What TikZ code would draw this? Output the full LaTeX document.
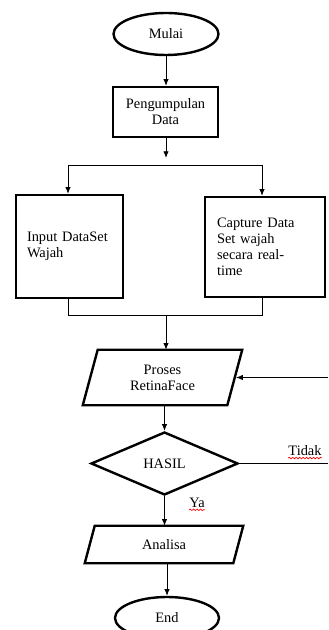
\documentclass[tikz,border=0pt]{standalone}
\usepackage{fontspec}
\setmainfont{Liberation Serif}
\usetikzlibrary{shapes.geometric,arrows.meta,decorations.pathmorphing}
\begin{document}
\begin{tikzpicture}[x=0.75pt,y=-0.75pt,
  every node/.style={font=\fontsize{10.8}{12}\selectfont},
  shp/.style={draw, line width=1.8pt, inner sep=0pt},
  term/.style={shp, ellipse, minimum width=78.75pt, minimum height=31.5pt},
  boxx/.style={shp, rectangle},
  paratext/.style={rectangle, inner sep=0pt, align=center},
  parabord/.style={line width=1.8pt, line join=miter},
  dec/.style={shp, diamond, minimum width=110.25pt, minimum height=47.25pt},
  conn/.style={line width=0.6pt},
  arr/.style={conn, -{Latex[length=5pt,width=4pt]}},
  lbl/.style={inner sep=0pt},
  wavy/.style={red, line width=0.5pt, decorate, decoration={snake, amplitude=0.6pt, segment length=2.6pt}}
]
\useasboundingbox (0,0) rectangle (328,630);

\node[term] (mulai) at (166,34) {Mulai};
\node[boxx, minimum width=78.75pt, minimum height=37.5pt, align=center] (peng) at (165.5,112) {Pengumpulan\\Data};
\node[boxx, minimum width=80.25pt, minimum height=77.25pt, text width=63.75pt, inner xsep=8.25pt, align=left] (inp) at (69.5,246.5) {Input DataSet\\Wajah};
\node[boxx, minimum width=90pt, minimum height=75pt, text width=72pt, inner xsep=9pt, align=left] (cap) at (265,247) {Capture Data\\Set wajah\\secara real-\\time};

\node[paratext, minimum width=108pt, minimum height=41.25pt] (proc) at (162.5,377.5) {Proses\\RetinaFace};
\draw[parabord] ([xshift=5.6pt]proc.north west) -- ([xshift=5.6pt]proc.north east)
  -- ([xshift=-5.6pt]proc.south east) -- ([xshift=-5.6pt]proc.south west) -- cycle;

\node[dec] (dia) at (164.5,463.5) {HASIL};

\node[paratext, minimum width=111pt, minimum height=27.75pt] (ana) at (164,544.5) {Analisa};
\draw[parabord] ([xshift=3.75pt]ana.north west) -- ([xshift=3.75pt]ana.north east)
  -- ([xshift=-3.75pt]ana.south east) -- ([xshift=-3.75pt]ana.south west) -- cycle;

\node[term, minimum width=78pt] (end) at (167,618) {End};

\node[lbl] (tidak) at (305,451) {Tidak};
\node[lbl] (ya) at (197,503) {Ya};
\draw[wavy] ([yshift=-1.6pt]tidak.base west) -- ([yshift=-1.6pt]tidak.base east);
\draw[wavy] ([yshift=-1.6pt]ya.base west) -- ([yshift=-1.6pt]ya.base east);

\coordinate (a1) at (166,158);
\coordinate (sl) at (68,165);
\coordinate (sr) at (262,165);
\coordinate (jl) at (68,315);
\coordinate (jr) at (262,315);
\coordinate (jm) at (166,315);
\coordinate (fb) at (328,377.5);
\coordinate (td) at (328,463.5);

\draw[arr] (mulai.south) -- (mulai.south |- peng.north);
\draw[arr] (a1 |- peng.south) -- (a1);
\draw[conn] (sl) -- (sr);
\draw[arr] (sl) -- (sl |- inp.north);
\draw[arr] (sr) -- (sr |- cap.north);
\draw[conn] (sl |- inp.south) -- (jl) -- (jr) -- (sr |- cap.south);
\draw[arr] (jm) -- (jm |- proc.north);
\draw[arr] (fb) -- ([xshift=1pt]proc.east);
\draw[arr] (dia.north |- proc.south) -- (dia.north);
\draw[conn] (dia.east) -- (td);
\draw[arr] (dia.south) -- (dia.south |- ana.north);
\draw[arr] (end.north |- ana.south) -- (end.north);
\end{tikzpicture}
\end{document}
